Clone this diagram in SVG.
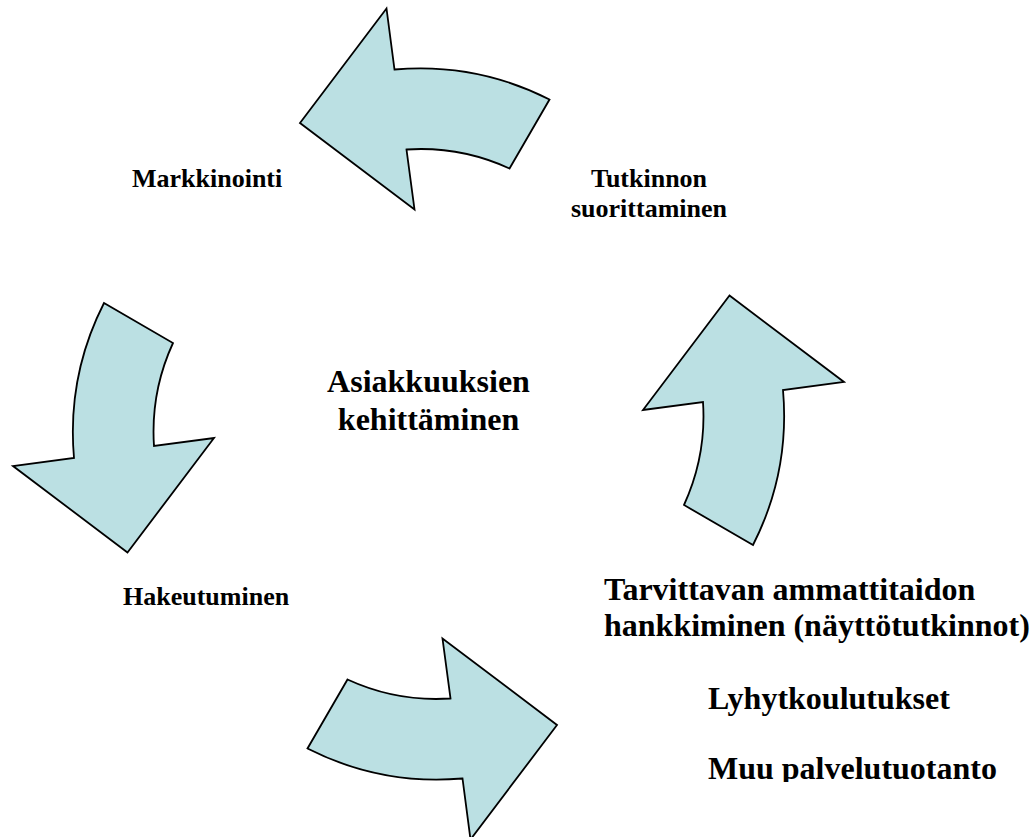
<svg xmlns="http://www.w3.org/2000/svg" xmlns:xlink="http://www.w3.org/1999/xlink" width="1035" height="837" viewBox="0 0 1035 837">
  <style>
    .arrow { fill: #BBE0E3; stroke: #000000; stroke-width: 1.8; stroke-linejoin: miter; }
    text { font-family: 'Liberation Serif', 'Times New Roman', 'DejaVu Serif', serif; font-weight: bold; fill: #000000; }
    .small { font-size: 26px; }
    .big { font-size: 32px; }
  </style>
  <defs>
    <path id="curvedArrow" d="M-128.5,-301 L-42,-415.5 L-34,-354.5 A287,287 0 0 1 121,-324.5 L81,-255.5 A213,213 0 0 0 -22,-274.5 L-14,-214.5 Z"/>
    <clipPath id="clipBottom">
      <rect x="0" y="0" width="1035" height="782"/>
    </clipPath>
  </defs>
  <rect x="0" y="0" width="1035" height="837" fill="#FFFFFF"/>
  <g id="connectors">
    <g id="arrow-top"><use xlink:href="#curvedArrow" class="arrow" transform="translate(428.5,424) rotate(0)"/></g>
    <g id="arrow-right"><use xlink:href="#curvedArrow" class="arrow" transform="translate(428.5,424) rotate(90)"/></g>
    <g id="arrow-bottom"><use xlink:href="#curvedArrow" class="arrow" transform="translate(428.5,424) rotate(180)"/></g>
    <g id="arrow-left"><use xlink:href="#curvedArrow" class="arrow" transform="translate(428.5,424) rotate(270)"/></g>
  </g>
  <g id="node-markkinointi">
    <text class="small" x="132" y="187" font-family="Liberation Serif, serif">Markkinointi</text>
  </g>
  <g id="node-tutkinnon">
    <text class="small" x="649" y="187" text-anchor="middle" font-family="Liberation Serif, serif">Tutkinnon</text>
    <text class="small" x="649" y="217" text-anchor="middle" font-family="Liberation Serif, serif">suorittaminen</text>
  </g>
  <g id="node-center">
    <text class="big" x="428.5" y="392" text-anchor="middle" font-family="Liberation Serif, serif">Asiakkuuksien</text>
    <text class="big" x="428.5" y="430" text-anchor="middle" font-family="Liberation Serif, serif">kehittäminen</text>
  </g>
  <g id="node-hakeutuminen">
    <text class="small" x="123" y="605" font-family="Liberation Serif, serif">Hakeutuminen</text>
  </g>
  <g id="node-ammattitaito">
    <text class="big" x="604" y="600" font-family="Liberation Serif, serif">Tarvittavan ammattitaidon</text>
    <text class="big" x="604" y="636" font-family="Liberation Serif, serif">hankkiminen (näyttötutkinnot)</text>
    <text class="big" x="708" y="709" font-family="Liberation Serif, serif">Lyhytkoulutukset</text>
    <text class="big" x="708" y="779" clip-path="url(#clipBottom)" font-family="Liberation Serif, serif">Muu palvelutuotanto</text>
  </g>
</svg>
